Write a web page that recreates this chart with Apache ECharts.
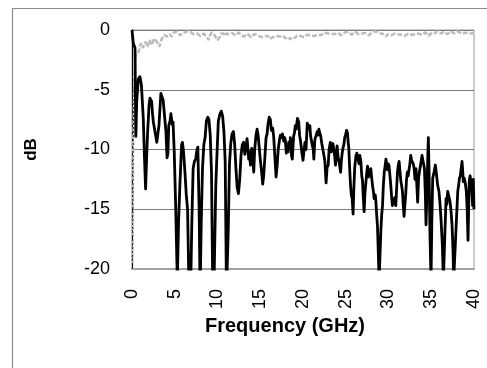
<!DOCTYPE html>
<html>
<head>
<meta charset="utf-8">
<script src="https://cdn.jsdelivr.net/npm/echarts@6/dist/echarts.min.js"></script>
<style>
html,body{margin:0;padding:0;background:#fff;}
#chart{width:487px;height:368px;}
</style>
</head>
<body>
<div id="chart"></div>
<script>
// ---- Data ----
const xTicks = [0, 5, 10, 15, 20, 25, 30, 35, 40];
const yTicks = [0, -5, -10, -15, -20];

const s11Freq = [0,0.15,0.35,0.45,0.55,0.74,0.93,1.1,1.32,1.45,1.59,1.72,1.83,2.0,2.1,2.3,2.4,2.5,2.65,2.76,2.9,3.0,3.15,3.38,3.54,3.65,3.77,3.97,4.1,4.2,4.3,4.45,4.55,4.7,4.8,4.94,5.1,5.3,5.45,5.6,5.8,5.9,6.03,6.2,6.35,6.5,6.65,6.85,7.0,7.15,7.3,7.45,7.6,7.7,7.85,7.97,8.1,8.25,8.4,8.55,8.7,8.87,9.0,9.15,9.3,9.45,9.6,9.8,9.95,10.1,10.3,10.45,10.6,10.75,10.9,11.05,11.25,11.4,11.55,11.7,11.87,12.0,12.15,12.3,12.45,12.6,12.75,12.9,13.05,13.2,13.3,13.46,13.55,13.65,13.75,13.85,14.0,14.1,14.24,14.35,14.5,14.63,14.75,14.85,15.0,15.15,15.29,15.4,15.52,15.68,15.8,15.9,16.05,16.18,16.3,16.45,16.57,16.7,16.85,16.96,17.1,17.25,17.35,17.5,17.6,17.74,17.85,17.93,18.05,18.13,18.25,18.32,18.45,18.52,18.65,18.75,18.9,19.0,19.1,19.2,19.35,19.5,19.6,19.75,19.87,20.0,20.1,20.23,20.35,20.5,20.6,20.7,20.8,20.89,21.0,21.1,21.2,21.27,21.38,21.47,21.55,21.66,21.75,21.86,21.95,22.05,22.2,22.33,22.45,22.56,22.7,22.82,22.95,23.05,23.2,23.3,23.4,23.5,23.6,23.7,23.8,23.9,23.99,24.1,24.2,24.3,24.4,24.5,24.6,24.7,24.78,24.88,24.97,25.1,25.2,25.3,25.36,25.45,25.56,25.65,25.75,25.86,25.95,26.05,26.2,26.3,26.43,26.55,26.65,26.77,26.87,26.96,27.05,27.15,27.25,27.35,27.45,27.55,27.65,27.74,27.85,27.93,28.05,28.13,28.25,28.32,28.45,28.52,28.62,28.71,28.8,28.9,29.0,29.1,29.2,29.3,29.4,29.5,29.6,29.7,29.8,29.88,29.97,30.07,30.17,30.27,30.37,30.46,30.56,30.66,30.75,30.85,30.95,31.05,31.15,31.24,31.34,31.44,31.53,31.63,31.72,31.82,31.92,32.0,32.1,32.2,32.3,32.4,32.5,32.6,32.7,32.8,32.9,33.0,33.1,33.22,33.3,33.41,33.52,33.61,33.75,33.92,34.05,34.2,34.3,34.39,34.5,34.58,34.66,34.75,34.85,34.97,35.07,35.17,35.3,35.48,35.6,35.75,35.9,36.0,36.14,36.3,36.42,36.55,36.73,36.82,36.92,37.05,37.2,37.3,37.43,37.55,37.62,37.82,37.97,38.1,38.2,38.3,38.4,38.5,38.6,38.68,38.75,38.85,38.98,39.1,39.2,39.3,39.4,39.45,39.55,39.64,39.75,39.84,39.92,40.0];
const s11Db = [0,-1.1,-1.5,-8.9,-6.0,-4.1,-3.9,-4.6,-7.4,-10.5,-13.3,-10.5,-8.5,-6.2,-5.7,-6.0,-7.0,-7.7,-7.8,-8.8,-9.4,-9.3,-8.0,-5.3,-5.2,-5.9,-6.9,-8.5,-10.7,-10.3,-8.0,-7.6,-7.0,-7.9,-7.7,-10.2,-14.5,-21,-16.0,-13.0,-9.6,-9.4,-10.2,-12.0,-13.8,-15.0,-21,-22,-16,-11.6,-11.0,-10.8,-10.0,-9.8,-15.0,-22,-16,-11.5,-9.6,-9.0,-7.6,-7.3,-7.5,-8.8,-12,-22,-21,-13,-10.2,-7.6,-7.0,-6.8,-7.2,-8.5,-11,-22,-17,-11.2,-9.5,-8.7,-8.5,-9.5,-11.5,-13.2,-13.7,-12.5,-10.5,-9.6,-9.4,-10.4,-9.9,-9.1,-9.9,-10.8,-10.2,-11.3,-9.9,-10.3,-11.9,-10.0,-8.8,-8.3,-8.8,-8.7,-10.8,-11.8,-12.9,-12.2,-10.9,-9.0,-8.7,-7.9,-7.3,-7.5,-8.4,-8.2,-8.9,-10.5,-12.3,-11.5,-10.0,-9.2,-8.8,-9.0,-8.7,-9.3,-9.0,-9.2,-10.3,-9.7,-10.2,-9.4,-9.9,-9.0,-10.5,-10.8,-8.9,-8.6,-8.0,-8.3,-7.4,-7.7,-8.8,-9.5,-10.3,-10.9,-10.2,-9.4,-10.0,-7.8,-7.7,-8.3,-8.0,-8.9,-9.3,-9.7,-10.0,-10.8,-9.2,-9.3,-8.8,-8.5,-8.8,-8.3,-8.6,-8.8,-9.5,-9.4,-10.5,-11.0,-12.8,-11.5,-11.3,-10.0,-9.4,-10.2,-9.9,-9.5,-9.4,-10.5,-11.3,-10.3,-9.7,-10.6,-11.0,-11.4,-11.9,-10.8,-10.2,-9.8,-9.6,-9.0,-8.8,-8.4,-8.6,-9.5,-9.9,-11.5,-13.0,-13.8,-14.1,-15.4,-13.2,-11.5,-10.5,-10.3,-10.2,-11.2,-10.5,-11.0,-12.2,-12.6,-14.0,-15.2,-13.6,-12.8,-12.0,-11.4,-12.3,-12.4,-11.9,-11.6,-12.5,-13.0,-13.6,-14.1,-13.8,-14.3,-15.5,-16.4,-18.5,-21,-19,-16.9,-15.5,-14.7,-13.0,-11.9,-11.4,-10.8,-11.3,-11.7,-11.2,-11.4,-12.2,-13.0,-14.0,-14.7,-14.2,-14.5,-14.0,-14.7,-13.3,-11.9,-11.3,-11.0,-11.8,-12.6,-13.0,-13.5,-14.6,-15.6,-14.6,-13.9,-12.6,-11.9,-12.2,-12.2,-11.2,-10.5,-10.9,-10.8,-11.2,-11.6,-12.5,-11.6,-12.8,-14.4,-12.4,-11.9,-11.3,-10.5,-11.0,-11.6,-13.5,-16.3,-13.5,-11.0,-9.0,-12,-17,-21,-16,-12.4,-12.0,-11.3,-12.0,-13.0,-13.5,-14.3,-15.8,-18,-21,-18,-14.1,-14.6,-13.5,-13.9,-14.4,-15.0,-16.3,-18.5,-21,-21,-15.5,-13.5,-13.0,-12.4,-12.2,-11.6,-11.0,-11.8,-12.7,-12.4,-12.8,-13.5,-15.0,-17.6,-14.0,-12.6,-12.2,-12.3,-13.5,-14.7,-12.5,-15.0];

const s21Freq = [0.03,0.12,0.26,0.39,0.5,0.58,0.66,0.75,0.85,0.95,1.05,1.15,1.28,1.4,1.55,1.7,1.82,1.95,2.06,2.2,2.33,2.45,2.6,2.75,2.9,3.05,3.2,3.35,3.5,3.65,3.77,3.9,4.08,4.25,4.4,4.55,4.66,4.76,4.86,5.05,5.25,5.45,5.64,5.85,6.03,6.2,6.4,6.55,6.7,6.9,7.05,7.2,7.4,7.6,7.8,8.0,8.2,8.4,8.6,8.8,8.95,9.1,9.3,9.45,9.6,9.8,10.0,10.1,10.25,10.4,10.55,10.7,10.85,11.0,11.15,11.3,11.5,11.7,11.9,12.1,12.3,12.5,12.7,12.9,13.1,13.3,13.5,13.7,13.9,14.1,14.3,14.5,14.7,14.9,15.1,15.3,15.5,15.7,15.9,16.1,16.3,16.5,16.7,16.9,17.1,17.3,17.5,17.7,17.9,18.1,18.3,18.5,18.7,18.9,19.1,19.3,19.5,19.7,19.9,20.1,20.3,20.5,20.7,20.9,21.1,21.3,21.5,21.7,21.9,22.1,22.3,22.5,22.7,22.9,23.1,23.3,23.5,23.7,23.9,24.1,24.3,24.5,24.7,24.9,25.1,25.3,25.5,25.7,25.9,26.1,26.3,26.5,26.7,26.9,27.1,27.3,27.5,27.7,27.9,28.1,28.3,28.5,28.7,28.9,29.1,29.3,29.5,29.7,29.9,30.1,30.3,30.5,30.7,30.9,31.1,31.3,31.5,31.7,31.9,32.1,32.3,32.5,32.7,32.9,33.1,33.3,33.5,33.7,33.9,34.1,34.3,34.5,34.7,34.9,35.1,35.3,35.5,35.7,35.9,36.1,36.3,36.5,36.7,36.9,37.1,37.3,37.5,37.7,37.9,38.1,38.3,38.5,38.7,38.9,39.1,39.3,39.5,39.7,39.9,40.0];
const s21Db = [-22,-10,-4.5,-2.0,-2.2,-2.1,-1.96,-1.9,-1.68,-1.3,-1.1,-1.3,-1.5,-1.2,-0.98,-1.2,-1.4,-1.1,-0.84,-1.0,-1.26,-1.0,-0.7,-0.8,-0.98,-1.2,-1.4,-1.0,-0.7,-0.55,-0.42,-0.5,-0.56,-0.45,-0.34,-0.45,-0.56,-0.4,-0.22,-0.18,-0.14,-0.3,-0.45,-0.25,-0.14,-0.2,-0.28,-0.1,-0.06,-0.2,-0.25,-0.35,-0.5,-0.3,-0.38,-0.5,-0.56,-0.3,-0.22,-0.6,-0.84,-0.5,-0.2,-0.15,-0.4,-0.6,-0.85,-1.0,-0.6,-0.3,-0.15,-0.3,-0.5,-0.3,-0.2,-0.35,-0.5,-0.25,-0.3,-0.45,-0.3,-0.2,-0.4,-0.35,-0.55,-0.5,-0.3,-0.4,-0.6,-0.45,-0.35,-0.5,-0.4,-0.55,-0.6,-0.45,-0.5,-0.65,-0.5,-0.75,-0.9,-0.6,-0.45,-0.5,-0.4,-0.55,-0.6,-0.5,-0.7,-0.55,-0.6,-0.8,-0.6,-0.5,-0.65,-0.45,-0.35,-0.5,-0.4,-0.6,-0.55,-0.4,-0.55,-0.45,-0.35,-0.5,-0.6,-0.4,-0.3,-0.45,-0.35,-0.2,-0.35,-0.3,-0.45,-0.3,-0.2,-0.35,-0.4,-0.25,-0.3,-0.45,-0.3,-0.2,-0.3,-0.15,-0.25,-0.4,-0.25,-0.15,-0.3,-0.35,-0.2,-0.3,-0.4,-0.25,-0.3,-0.45,-0.3,-0.2,-0.35,-0.1,-0.05,-0.3,-0.45,-0.3,-0.4,-0.55,-0.35,-0.3,-0.45,-0.4,-0.3,-0.45,-0.35,-0.5,-0.4,-0.3,-0.5,-0.35,-0.3,-0.45,-0.4,-0.25,-0.35,-0.45,-0.3,-0.2,-0.4,-0.3,-0.2,-0.35,-0.5,-0.3,-0.2,-0.35,-0.25,-0.1,-0.2,-0.3,-0.2,-0.15,-0.3,-0.35,-0.2,-0.1,-0.15,-0.3,-0.25,-0.1,-0.15,-0.3,-0.2,-0.25,-0.35,-0.2,-0.25,-0.3,-0.2,-0.25];

const xTitle = 'Frequency (GHz)';
const yTitle = 'dB';

// ---- Build ----
const zip = (xs, ys) => xs.map((x, i) => [x, ys[i]]);
const font = '"Liberation Sans", Arial, sans-serif';

const chart = echarts.init(document.getElementById('chart'), null, {renderer: 'canvas'});
chart.setOption({
  animation: false,
  backgroundColor: '#fff',
  graphic: [{
    type: 'rect',
    shape: {x: 12.5, y: 8.5, width: 600, height: 600},
    style: {fill: null, stroke: '#8c8c8c', lineWidth: 1.2},
    z: -1
  }],
  grid: {
    left: 132, right: 13, top: 30, bottom: 99,
    show: true, borderColor: '#9a9a9a', borderWidth: 1, backgroundColor: 'transparent'
  },
  xAxis: {
    type: 'value', min: 0, max: 40, interval: 5,
    name: xTitle, nameLocation: 'middle', nameGap: 42,
    nameTextStyle: {fontFamily: font, fontWeight: 'bold', fontSize: 20, color: '#000', padding: [0, 36, 0, 0]},
    axisLine: {show: true, onZero: false, lineStyle: {color: '#a0a0a0', width: 2}},
    axisTick: {show: false},
    splitLine: {show: false},
    axisLabel: {
      rotate: 90, margin: 20, fontFamily: font, fontSize: 18, color: '#000',
      formatter: v => (xTicks.includes(v) ? String(v) : '')
    }
  },
  yAxis: {
    type: 'value', min: -20, max: 0, interval: 5,
    name: yTitle, nameLocation: 'middle', nameGap: 92, nameRotate: 90,
    nameTextStyle: {fontFamily: font, fontWeight: 'bold', fontSize: 17, color: '#000'},
    axisLine: {show: true, lineStyle: {color: '#000', width: 1}},
    axisTick: {show: false},
    splitLine: {show: true, lineStyle: {color: '#7a7a7a', width: 1}},
    axisLabel: {
      margin: 22, fontFamily: font, fontSize: 18, color: '#000',
      formatter: v => (yTicks.includes(v) ? String(v) : '')
    }
  },
  series: [
    {
      name: 'S21', type: 'line', showSymbol: false, clip: true,
      data: zip(s21Freq, s21Db),
      lineStyle: {color: '#bcbcbc', width: 2.5, type: [5, 2]}, z: 2
    },
    {
      name: 'S21 (start)', type: 'line', showSymbol: false, clip: true,
      data: zip(s21Freq.slice(0, 4), s21Db.slice(0, 4)),
      lineStyle: {color: '#333', width: 1.2, type: [2, 2]}, z: 3
    },
    {
      name: 'S11', type: 'line', showSymbol: false, clip: true,
      data: zip(s11Freq, s11Db),
      lineStyle: {color: '#000', width: 2.8, join: 'round'}, z: 4
    }
  ]
});
</script>
</body>
</html>
